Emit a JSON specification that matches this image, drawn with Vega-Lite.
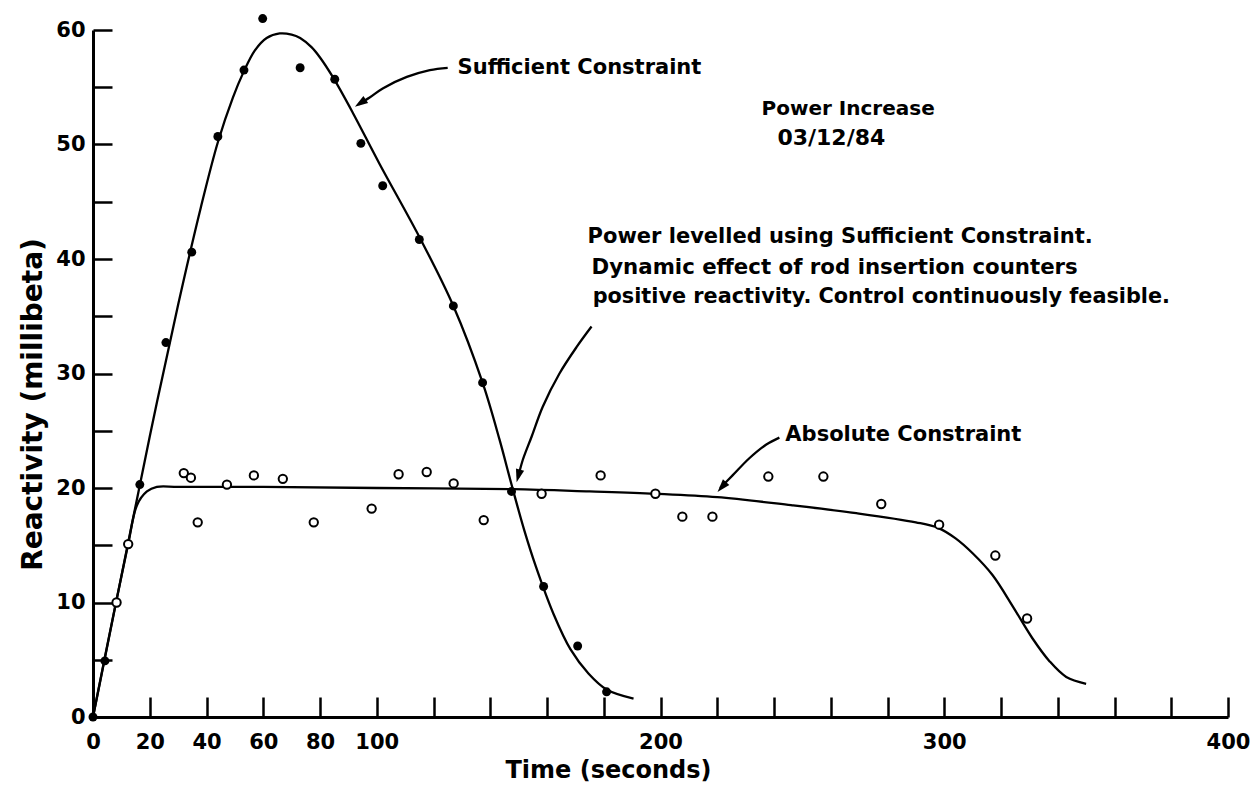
{
  "$schema": "https://vega.github.io/schema/vega-lite/v6.json",
  "width": 1135,
  "height": 687,
  "autosize": "none",
  "padding": {"left": 93, "top": 30, "right": 30, "bottom": 71},
  "background": "white",
  "config": {"view": {"stroke": null}, "font": "DejaVu Sans"},
  "datasets": {
    "points": [
      {"t": 0, "v": 0, "series": "Sufficient"},
      {"t": 4.2, "v": 4.9, "series": "Sufficient"},
      {"t": 16.5, "v": 20.3, "series": "Sufficient"},
      {"t": 25.7, "v": 32.7, "series": "Sufficient"},
      {"t": 34.8, "v": 40.6, "series": "Sufficient"},
      {"t": 44, "v": 50.7, "series": "Sufficient"},
      {"t": 53.2, "v": 56.5, "series": "Sufficient"},
      {"t": 59.8, "v": 61, "series": "Sufficient"},
      {"t": 73, "v": 56.7, "series": "Sufficient"},
      {"t": 85.2, "v": 55.7, "series": "Sufficient"},
      {"t": 94.4, "v": 50.1, "series": "Sufficient"},
      {"t": 102.1, "v": 46.4, "series": "Sufficient"},
      {"t": 115, "v": 41.7, "series": "Sufficient"},
      {"t": 127, "v": 35.9, "series": "Sufficient"},
      {"t": 137.3, "v": 29.2, "series": "Sufficient"},
      {"t": 147.5, "v": 19.7, "series": "Sufficient"},
      {"t": 158.8, "v": 11.4, "series": "Sufficient"},
      {"t": 170.8, "v": 6.2, "series": "Sufficient"},
      {"t": 181, "v": 2.2, "series": "Sufficient"},
      {"t": 8.3, "v": 10.0, "series": "Absolute"},
      {"t": 12.4, "v": 15.1, "series": "Absolute"},
      {"t": 32, "v": 21.3, "series": "Absolute"},
      {"t": 34.5, "v": 20.9, "series": "Absolute"},
      {"t": 36.9, "v": 17.0, "series": "Absolute"},
      {"t": 47.2, "v": 20.3, "series": "Absolute"},
      {"t": 56.7, "v": 21.1, "series": "Absolute"},
      {"t": 66.9, "v": 20.8, "series": "Absolute"},
      {"t": 77.8, "v": 17.0, "series": "Absolute"},
      {"t": 98.2, "v": 18.2, "series": "Absolute"},
      {"t": 107.7, "v": 21.2, "series": "Absolute"},
      {"t": 117.6, "v": 21.4, "series": "Absolute"},
      {"t": 127.1, "v": 20.4, "series": "Absolute"},
      {"t": 137.7, "v": 17.2, "series": "Absolute"},
      {"t": 158.1, "v": 19.5, "series": "Absolute"},
      {"t": 178.9, "v": 21.1, "series": "Absolute"},
      {"t": 198.2, "v": 19.5, "series": "Absolute"},
      {"t": 207.7, "v": 17.5, "series": "Absolute"},
      {"t": 218.3, "v": 17.5, "series": "Absolute"},
      {"t": 238, "v": 21.0, "series": "Absolute"},
      {"t": 257.4, "v": 21.0, "series": "Absolute"},
      {"t": 277.8, "v": 18.6, "series": "Absolute"},
      {"t": 298.2, "v": 16.8, "series": "Absolute"},
      {"t": 318, "v": 14.1, "series": "Absolute"},
      {"t": 329.2, "v": 8.6, "series": "Absolute"}
    ],
    "curves": [
      {"t": 0, "v": 0, "curve": "Sufficient"},
      {"t": 10, "v": 12.3, "curve": "Sufficient"},
      {"t": 20, "v": 24.5, "curve": "Sufficient"},
      {"t": 30, "v": 36, "curve": "Sufficient"},
      {"t": 38, "v": 44.5, "curve": "Sufficient"},
      {"t": 44, "v": 50.2, "curve": "Sufficient"},
      {"t": 49.3, "v": 54.1, "curve": "Sufficient"},
      {"t": 53, "v": 56.3, "curve": "Sufficient"},
      {"t": 57, "v": 58.2, "curve": "Sufficient"},
      {"t": 61.2, "v": 59.3, "curve": "Sufficient"},
      {"t": 65.8, "v": 59.7, "curve": "Sufficient"},
      {"t": 70, "v": 59.6, "curve": "Sufficient"},
      {"t": 73, "v": 59.3, "curve": "Sufficient"},
      {"t": 77, "v": 58.5, "curve": "Sufficient"},
      {"t": 80, "v": 57.6, "curve": "Sufficient"},
      {"t": 84.5, "v": 55.9, "curve": "Sufficient"},
      {"t": 91.5, "v": 52.8, "curve": "Sufficient"},
      {"t": 101, "v": 48.3, "curve": "Sufficient"},
      {"t": 115.5, "v": 41.7, "curve": "Sufficient"},
      {"t": 127, "v": 35.9, "curve": "Sufficient"},
      {"t": 137.3, "v": 29.2, "curve": "Sufficient"},
      {"t": 143.3, "v": 24.2, "curve": "Sufficient"},
      {"t": 147.5, "v": 20.3, "curve": "Sufficient"},
      {"t": 152, "v": 16.3, "curve": "Sufficient"},
      {"t": 156, "v": 13.2, "curve": "Sufficient"},
      {"t": 162.3, "v": 9.0, "curve": "Sufficient"},
      {"t": 168.3, "v": 5.9, "curve": "Sufficient"},
      {"t": 174.6, "v": 3.8, "curve": "Sufficient"},
      {"t": 181, "v": 2.4, "curve": "Sufficient"},
      {"t": 190.5, "v": 1.6, "curve": "Sufficient"},
      {"t": 0, "v": 0, "curve": "Absolute"},
      {"t": 8, "v": 9.9, "curve": "Absolute"},
      {"t": 12.4, "v": 15.1, "curve": "Absolute"},
      {"t": 15.5, "v": 18.5, "curve": "Absolute"},
      {"t": 19, "v": 19.7, "curve": "Absolute"},
      {"t": 22.5, "v": 20.1, "curve": "Absolute"},
      {"t": 30, "v": 20.1, "curve": "Absolute"},
      {"t": 60, "v": 20.1, "curve": "Absolute"},
      {"t": 100, "v": 20.0, "curve": "Absolute"},
      {"t": 148, "v": 19.9, "curve": "Absolute"},
      {"t": 175, "v": 19.7, "curve": "Absolute"},
      {"t": 198, "v": 19.5, "curve": "Absolute"},
      {"t": 220, "v": 19.2, "curve": "Absolute"},
      {"t": 246, "v": 18.5, "curve": "Absolute"},
      {"t": 269, "v": 17.8, "curve": "Absolute"},
      {"t": 290, "v": 17.0, "curve": "Absolute"},
      {"t": 298, "v": 16.5, "curve": "Absolute"},
      {"t": 304, "v": 15.6, "curve": "Absolute"},
      {"t": 310, "v": 14.3, "curve": "Absolute"},
      {"t": 317, "v": 12.4, "curve": "Absolute"},
      {"t": 324.3, "v": 9.6, "curve": "Absolute"},
      {"t": 331, "v": 6.9, "curve": "Absolute"},
      {"t": 337, "v": 4.9, "curve": "Absolute"},
      {"t": 343, "v": 3.5, "curve": "Absolute"},
      {"t": 350, "v": 2.9, "curve": "Absolute"}
    ],
    "arrows": [
      {"t": 125.0, "v": 56.7, "arrow": "a1"},
      {"t": 118.7, "v": 56.5, "arrow": "a1"},
      {"t": 110.6, "v": 55.9, "arrow": "a1"},
      {"t": 102.1, "v": 54.9, "arrow": "a1"},
      {"t": 97.5, "v": 54.1, "arrow": "a1"},
      {"t": 93.5, "v": 53.5, "arrow": "a1"},
      {"t": 175.7, "v": 34.1, "arrow": "a2"},
      {"t": 170.4, "v": 32.3, "arrow": "a2"},
      {"t": 164.4, "v": 30.0, "arrow": "a2"},
      {"t": 158.5, "v": 27.1, "arrow": "a2"},
      {"t": 154.6, "v": 24.5, "arrow": "a2"},
      {"t": 151.4, "v": 22.4, "arrow": "a2"},
      {"t": 149.8, "v": 20.9, "arrow": "a2"},
      {"t": 241.9, "v": 24.4, "arrow": "a3"},
      {"t": 237.3, "v": 23.8, "arrow": "a3"},
      {"t": 231.3, "v": 22.6, "arrow": "a3"},
      {"t": 225.4, "v": 21.1, "arrow": "a3"},
      {"t": 221.0, "v": 20.0, "arrow": "a3"}
    ]
  },
  "layer": [
    {
      "data": {"name": "curves"},
      "mark": {"type": "line", "interpolate": "catmull-rom", "color": "black", "strokeWidth": 2.3},
      "encoding": {
        "x": {
          "field": "t",
          "type": "quantitative",
          "scale": {"domain": [0, 400], "nice": false, "zero": false},
          "axis": {
            "values": [0, 20, 40, 60, 80, 100, 120, 140, 160, 180, 200, 220, 240, 260, 280, 300, 320, 340, 360, 380, 400],
            "labelExpr": "datum.value <= 100 || datum.value % 100 === 0 ? datum.label : ''",
            "labelOverlap": false,
            "labelFlush": false,
            "grid": false,
            "domainColor": "black",
            "domainWidth": 3,
            "tickColor": "black",
            "tickWidth": 2.5,
            "tickSize": -20,
            "labelPadding": 34,
            "labelFont": "DejaVu Sans",
            "labelFontWeight": "bold",
            "labelFontSize": 21,
            "labelColor": "black",
            "title": "Time (seconds)",
            "titleFont": "DejaVu Sans",
            "titleFontWeight": "bold",
            "titleFontSize": 24,
            "titleColor": "black",
            "titleX": 515,
            "titleY": 60,
            "titleAlign": "center",
            "titleBaseline": "alphabetic"
          }
        },
        "y": {
          "field": "v",
          "type": "quantitative",
          "scale": {"domain": [0, 60], "nice": false},
          "axis": {
            "values": [0, 5, 10, 15, 20, 25, 30, 35, 40, 45, 50, 55, 60],
            "labelExpr": "datum.value % 10 === 0 ? datum.label : ''",
            "labelOverlap": false,
            "labelFlush": false,
            "grid": false,
            "domainColor": "black",
            "domainWidth": 3,
            "tickColor": "black",
            "tickWidth": 2.5,
            "tickSize": -19,
            "labelPadding": 27,
            "labelFont": "DejaVu Sans",
            "labelFontWeight": "bold",
            "labelFontSize": 21,
            "labelColor": "black",
            "title": "Reactivity (millibeta)",
            "titleFont": "DejaVu Sans",
            "titleFontWeight": "bold",
            "titleFontSize": 28,
            "titleColor": "black",
            "titleAngle": 270,
            "titleX": -52,
            "titleY": 374,
            "titleAlign": "center",
            "titleBaseline": "alphabetic"
          }
        },
        "detail": {"field": "curve"}
      }
    },
    {
      "data": {"name": "arrows"},
      "mark": {"type": "line", "interpolate": "catmull-rom", "color": "black", "strokeWidth": 2.3},
      "encoding": {
        "x": {"field": "t", "type": "quantitative"},
        "y": {"field": "v", "type": "quantitative"},
        "detail": {"field": "arrow"}
      }
    },
    {
      "data": {"name": "points"},
      "transform": [{"filter": "datum.series === 'Sufficient'"}],
      "mark": {"type": "point", "shape": "circle", "filled": true, "color": "black", "size": 80, "opacity": 1},
      "encoding": {
        "x": {"field": "t", "type": "quantitative"},
        "y": {"field": "v", "type": "quantitative"}
      }
    },
    {
      "data": {"name": "points"},
      "transform": [{"filter": "datum.series === 'Absolute'"}],
      "mark": {"type": "point", "shape": "circle", "filled": false, "color": "black", "fill": "white", "size": 70, "strokeWidth": 2, "opacity": 1},
      "encoding": {
        "x": {"field": "t", "type": "quantitative"},
        "y": {"field": "v", "type": "quantitative"}
      }
    },
    {
      "data": {"values": [{"a": 1}]},
      "mark": {"type": "point", "shape": "M0,0L0.45,1.4L-0.45,1.4Z", "filled": true, "color": "black", "size": 350, "angle": 236, "opacity": 1},
      "encoding": {"x": {"datum": 92.3, "type": "quantitative"}, "y": {"datum": 53.3, "type": "quantitative"}}
    },
    {
      "data": {"values": [{"a": 1}]},
      "mark": {"type": "point", "shape": "M0,0L0.45,1.4L-0.45,1.4Z", "filled": true, "color": "black", "size": 350, "angle": 195, "opacity": 1},
      "encoding": {"x": {"datum": 149.3, "type": "quantitative"}, "y": {"datum": 20.5, "type": "quantitative"}}
    },
    {
      "data": {"values": [{"a": 1}]},
      "mark": {"type": "point", "shape": "M0,0L0.45,1.4L-0.45,1.4Z", "filled": true, "color": "black", "size": 350, "angle": 221, "opacity": 1},
      "encoding": {"x": {"datum": 220.1, "type": "quantitative"}, "y": {"datum": 19.65, "type": "quantitative"}}
    },
    {
      "data": {"values": [{"a": 1}]},
      "mark": {"type": "text", "text": "Sufficient Constraint", "align": "left", "baseline": "alphabetic", "font": "DejaVu Sans", "fontWeight": "bold", "fontSize": 21, "color": "black"},
      "encoding": {"x": {"datum": 128.5, "type": "quantitative"}, "y": {"datum": 56.2, "type": "quantitative"}}
    },
    {
      "data": {"values": [{"a": 1}]},
      "mark": {"type": "text", "text": "Power Increase", "align": "left", "baseline": "alphabetic", "font": "DejaVu Sans", "fontWeight": "bold", "fontSize": 20, "color": "black"},
      "encoding": {"x": {"datum": 235.6, "type": "quantitative"}, "y": {"datum": 52.6, "type": "quantitative"}}
    },
    {
      "data": {"values": [{"a": 1}]},
      "mark": {"type": "text", "text": "03/12/84", "align": "left", "baseline": "alphabetic", "font": "DejaVu Sans", "fontWeight": "bold", "fontSize": 22, "color": "black"},
      "encoding": {"x": {"datum": 241.2, "type": "quantitative"}, "y": {"datum": 49.96, "type": "quantitative"}}
    },
    {
      "data": {"values": [{"a": 1}]},
      "mark": {"type": "text", "text": "Power levelled using Sufficient Constraint.", "align": "left", "baseline": "alphabetic", "font": "DejaVu Sans", "fontWeight": "bold", "fontSize": 21, "color": "black"},
      "encoding": {"x": {"datum": 174.3, "type": "quantitative"}, "y": {"datum": 41.4, "type": "quantitative"}}
    },
    {
      "data": {"values": [{"a": 1}]},
      "mark": {"type": "text", "text": "Dynamic effect of rod insertion counters", "align": "left", "baseline": "alphabetic", "font": "DejaVu Sans", "fontWeight": "bold", "fontSize": 21.3, "color": "black"},
      "encoding": {"x": {"datum": 175.7, "type": "quantitative"}, "y": {"datum": 38.7, "type": "quantitative"}}
    },
    {
      "data": {"values": [{"a": 1}]},
      "mark": {"type": "text", "text": "positive reactivity. Control continuously feasible.", "align": "left", "baseline": "alphabetic", "font": "DejaVu Sans", "fontWeight": "bold", "fontSize": 20.8, "color": "black"},
      "encoding": {"x": {"datum": 176.1, "type": "quantitative"}, "y": {"datum": 36.2, "type": "quantitative"}}
    },
    {
      "data": {"values": [{"a": 1}]},
      "mark": {"type": "text", "text": "Absolute Constraint", "align": "left", "baseline": "alphabetic", "font": "DejaVu Sans", "fontWeight": "bold", "fontSize": 21, "color": "black"},
      "encoding": {"x": {"datum": 244.0, "type": "quantitative"}, "y": {"datum": 24.1, "type": "quantitative"}}
    }
  ]
}
